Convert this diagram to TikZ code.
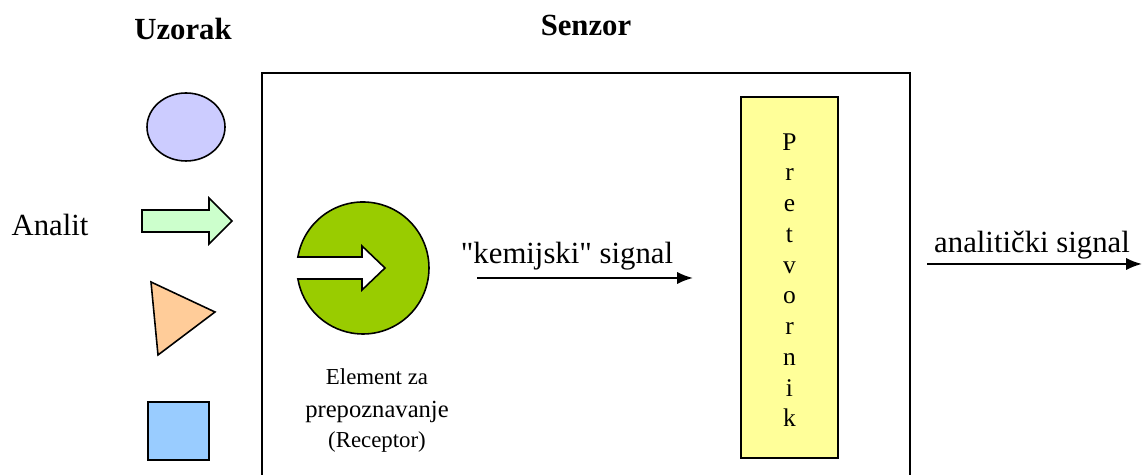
\documentclass[tikz,border=0pt]{standalone}
\usepackage{fontspec}
\setmainfont{Liberation Serif}[Ligatures=TeXOff]
\usetikzlibrary{arrows.meta}
\definecolor{ovalfill}{HTML}{CCCCFF}
\definecolor{arrowfill}{HTML}{CCFFCC}
\definecolor{trianglefill}{HTML}{FFCC99}
\definecolor{squarefill}{HTML}{99CCFF}
\definecolor{receptorfill}{HTML}{99CC00}
\definecolor{transducerfill}{HTML}{FFFF99}

\begin{document}
\begin{tikzpicture}[x=0.02cm,y=0.02cm,line width=0.8pt,
  title node/.style={font=\bfseries\fontsize{17.5}{21}\selectfont,anchor=base},
  big text/.style={font=\fontsize{17.5}{21}\selectfont,anchor=base},
  small text/.style={font=\fontsize{13}{15}\selectfont,anchor=base},
  sample/.style={draw,line width=0.9pt},
  signal/.style={line width=1.2pt,-{Latex[length=9pt,width=7pt]}}]
  \useasboundingbox (0,0) rectangle (1142,475);

  \node[title node] (uzorak) at (183,435) {Uzorak};
  \node[title node] (senzor) at (586,439) {Senzor};
  \node[big text] (analit) at (50,239) {Analit};

  % uzorak
  \draw[sample,fill=ovalfill] (186,348) ellipse [x radius=39,y radius=34];
  \draw[sample,fill=arrowfill] (142,265) -- (209,265) -- (209,277) -- (232,254)
    -- (209,231) -- (209,243) -- (142,243) -- cycle;
  \draw[sample,fill=trianglefill] (151,193) -- (215,163) -- (158,120) -- cycle;
  \draw[sample,fill=squarefill] (148,15) rectangle (209,73);

  % senzor
  \draw (262,0) |- (910,402) -- (910,0);

  % receptor
  \draw[sample,fill=receptorfill] (297.9,218) arc [start angle=170.41,end angle=-170.41,radius=66]
    -- (362,196) -- (362,185) -- (385,207) -- (362,229) -- (362,218) -- cycle;
  \node[small text] (element) at (377,90) {Element za};
  \node[small text,font=\fontsize{14}{16}\selectfont] (prepoznavanje) at (377,57) {prepoznavanje};
  \node[small text] (receptor) at (377,27) {(Receptor)};

  % pretvornik
  \node[draw,fill=transducerfill,minimum width=1.94cm,minimum height=7.22cm,
    align=center,font=\fontsize{14.5}{17.5}\selectfont] (pretvornik) at (789.5,197.5)
    {\rule{0pt}{12.5pt}P\\r\\e\\t\\v\\o\\r\\n\\i\\k};

  % signali
  \coordinate (chem start) at (477,197);
  \coordinate (chem end) at (693,197);
  \coordinate (out start) at (927,211);
  \coordinate (out end) at (1142,211);
  \node[big text] (chem label) at (567,211) {"kemijski" signal};
  \node[big text] (out label) at (1032,222) {analitički signal};

  \path[signal]
    (chem start) edge (chem end)
    (out start) edge (out end);
\end{tikzpicture}
\end{document}
